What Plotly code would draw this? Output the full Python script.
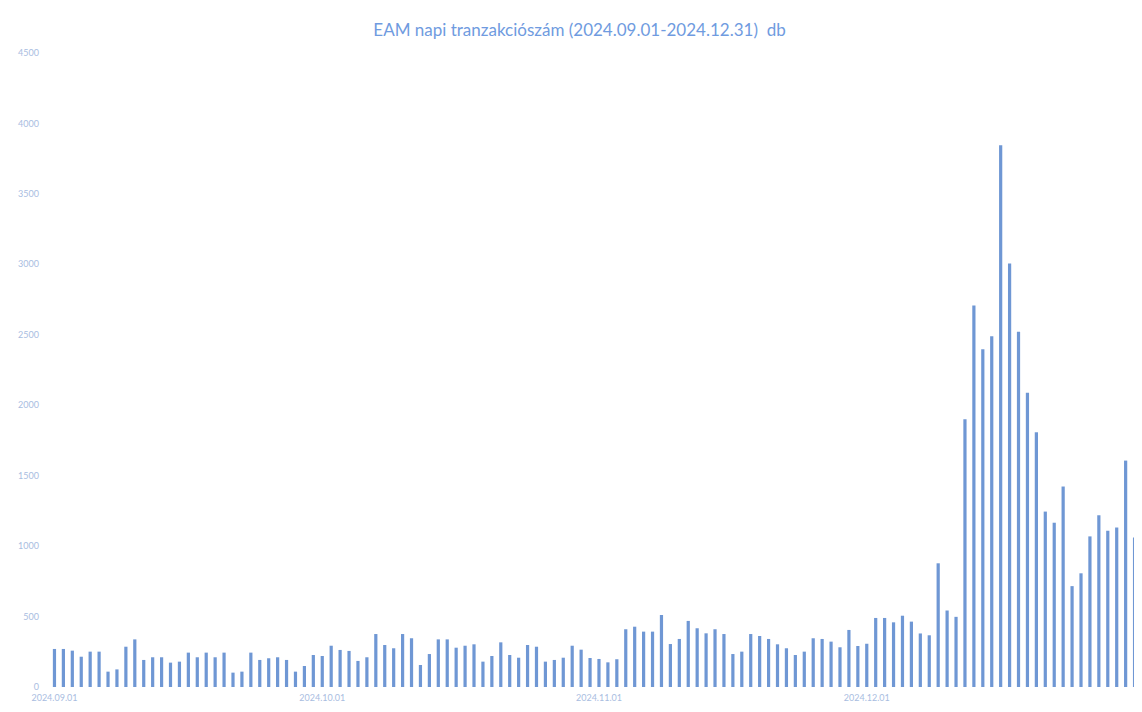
import pandas as pd
import plotly.graph_objects as go

# daily transaction counts
sep = [270, 270, 258, 215, 251, 251, 109, 125, 286, 338, 192, 211, 211, 173, 180,
       244, 211, 244, 211, 244, 102, 109, 244, 192, 204, 211, 192, 109, 149, 227]
oct_ = [220, 293, 263, 256, 185, 211, 376, 298, 275, 376, 346, 156, 234, 338, 338, 279,
        293, 303, 180, 220, 317, 227, 208, 298, 286, 180, 192, 208, 293, 265, 206]
nov = [199, 175, 197, 410, 428, 393, 393, 511, 305, 341, 469, 417, 381, 410, 376,
       234, 251, 376, 362, 341, 303, 275, 227, 251, 346, 341, 322, 282, 405, 291]
dec = [307, 490, 490, 459, 506, 464, 380, 367, 878, 543, 498, 1900, 2708, 2398, 2490, 3845,
       3006, 2521, 2089, 1808, 1245, 1166, 1423, 716, 807, 1069, 1219, 1109, 1132, 1607, 1062]

values = sep + oct_ + nov + dec
dates = pd.date_range("2024-09-01", "2024-12-31", freq="D")

month_ticks = ["2024-09-01", "2024-10-01", "2024-11-01", "2024-12-01"]
month_labels = ["2024.09.01", "2024.10.01", "2024.11.01", "2024.12.01"]
y_ticks = list(range(0, 5000, 500))

label_color = "#a9bddf"

fig = go.Figure(go.Bar(x=dates, y=values, marker_color="#6f97d4",
                       marker_line_width=0))

# page body adds an 8px offset, so the figure is a bit smaller than the window
fig.update_layout(
    width=1134, height=704,
    margin=dict(l=42, r=0, t=45, b=25),
    paper_bgcolor="white", plot_bgcolor="white",
    bargap=0.64,
    showlegend=False,
    font=dict(family="Lato, Open Sans, sans-serif"),
    title=dict(text="EAM napi tranzakciószám (2024.09.01-2024.12.31)  db",
               x=0.504, xanchor="center", y=0.969, yanchor="middle",
               font=dict(size=17, color="#6f9be0")),
)
fig.update_xaxes(range=["2024-08-31 12:00", "2024-12-31 20:00"],
                 tickvals=month_ticks, ticktext=month_labels,
                 showgrid=False, zeroline=False, showline=False, ticks="",
                 automargin=False, ticklabelstandoff=4,
                 tickfont=dict(size=9, color=label_color))
fig.update_yaxes(range=[0, 4500], tickvals=y_ticks,
                 ticktext=[str(v) for v in y_ticks],
                 showgrid=False, zeroline=False, showline=False, ticks="",
                 automargin=False,
                 tickfont=dict(size=9, color=label_color), ticklabelstandoff=10)

fig.write_html("out.html")
